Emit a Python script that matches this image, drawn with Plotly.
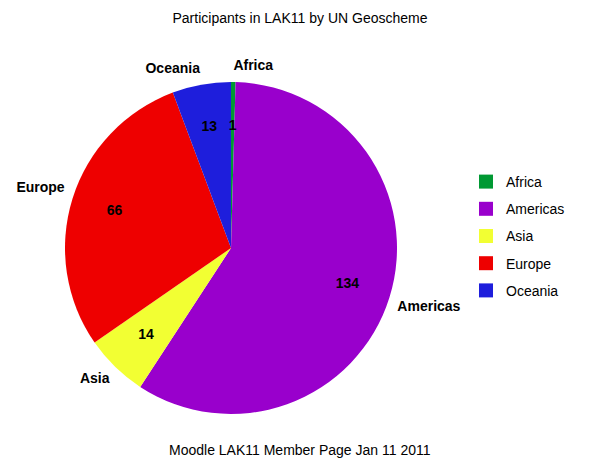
import numpy as np
import plotly.graph_objects as go

regions = ["Africa", "Americas", "Asia", "Europe", "Oceania"]
counts = [1, 134, 14, 66, 13]
colors = ["#009933", "#9900CC", "#F2FF33", "#EE0000", "#1E1EDC"]

FONT = "Arial, Liberation Sans, sans-serif"
# pie centre / radius in pixels; polar range extends beyond the pie so labels fit
CX, CY, RAD, W, H = 231, 248, 166, 600, 463
RMAX = 1.25
pr = RAD * RMAX
domain = dict(x=[(CX - pr) / W, (CX + pr) / W], y=[1 - (CY + pr) / H, 1 - (CY - pr) / H])

# slice geometry (degrees clockwise from 12 o'clock), derived from the data
vals = np.array(counts, dtype=float)
span = vals / vals.sum() * 360.0
mid = np.cumsum(span) - span / 2
label_pos = [("top" if np.cos(np.radians(a)) > 0 else "bottom") + " " +
             ("right" if a < 180 else "left") for a in mid]

fig = go.Figure()
# the pie itself, as full-radius polar wedges
fig.add_trace(go.Barpolar(
    r=[1] * len(counts), theta=mid, width=span, base=0,
    marker=dict(color=colors, line=dict(width=0)),
    customdata=np.array([regions, counts]).T,
    hovertemplate="%{customdata[0]}: %{customdata[1]}<extra></extra>",
    showlegend=False,
))
# value labels inside slices
fig.add_trace(go.Scatterpolar(
    r=[0.735] * len(counts), theta=mid, mode="text", text=[str(v) for v in counts],
    textposition="middle center", showlegend=False, hoverinfo="skip", cliponaxis=False,
    textfont=dict(family=FONT, size=14, color="black", weight="bold"),
))
# category labels outside
fig.add_trace(go.Scatterpolar(
    r=[1.05] * len(counts), theta=mid, mode="text", text=regions,
    textposition=label_pos, showlegend=False, hoverinfo="skip", cliponaxis=False,
    textfont=dict(family=FONT, size=14, color="black", weight="bold"),
))
# legend entries
for r, c in zip(regions, colors):
    fig.add_trace(go.Scatterpolar(
        r=[None], theta=[None], mode="markers", name=r, legendgroup=r,
        marker=dict(symbol="square", size=14, color=c),
    ))

fig.update_layout(
    width=W, height=H,
    margin=dict(l=0, r=0, t=0, b=0),
    paper_bgcolor="white",
    font=dict(family=FONT, size=14, color="black"),
    polar=dict(domain=domain, bgcolor="rgba(0,0,0,0)", bargap=0,
               radialaxis=dict(range=[0, RMAX], visible=False),
               angularaxis=dict(rotation=90, direction="clockwise", visible=False)),
    title=dict(text="Participants in LAK11 by UN Geoscheme", x=0.5, xanchor="center",
               y=1-18/463, yanchor="middle", font=dict(size=14, family=FONT)),
    legend=dict(x=466/600, y=1-236/463, xanchor="left", yanchor="middle",
                tracegroupgap=6, font=dict(size=14, family=FONT)),
    annotations=[dict(text="Moodle LAK11 Member Page Jan 11 2011", x=0.5, y=1-450/463,
                      xref="paper", yref="paper", showarrow=False,
                      font=dict(size=14, family=FONT), yanchor="middle")],
)

fig.write_html("out.html", config={"displayModeBar": False},
               post_script="document.body.style.margin='0';")
